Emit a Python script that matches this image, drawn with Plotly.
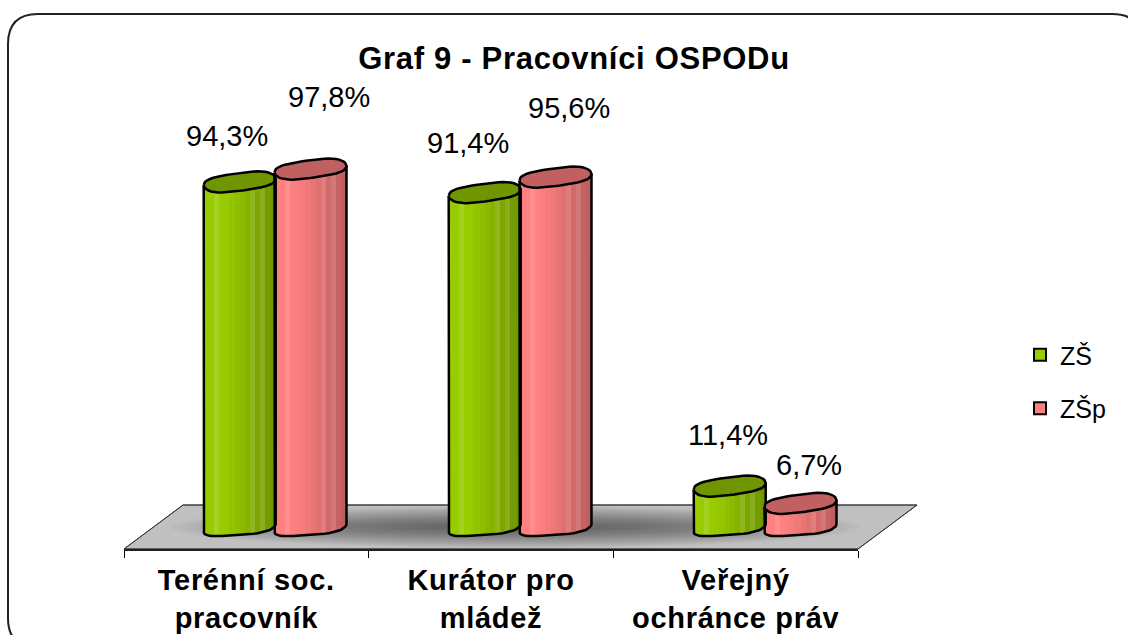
import math
import plotly.graph_objects as go

CATEGORIES = ["Terénní soc.<br>pracovník", "Kurátor pro<br>mládež", "Veřejný<br>ochránce práv"]
SERIES_NAMES = ["ZŠ", "ZŠp"]
ZS_VALUES = [94.3, 91.4, 11.4]
ZSP_VALUES = [97.8, 95.6, 6.7]
ZS_LABELS = ["94,3%", "91,4%", "11,4%"]
ZSP_LABELS = ["97,8%", "95,6%", "6,7%"]
TITLE = "Graf 9 - Pracovníci OSPODu"

W, H = 1128, 635
def px(x): return x / W
def py(y): return 1 - y / H

# plot-plane geometry
X_L, X_R = 153, 888
Y0, PX_PER_UNIT = 528, 3.67
YMIN, YMAX = -10, 120
UX = (X_R - X_L) / 3
BAR_W = 72 / UX
B_U, T_U = 9.6 / PX_PER_UNIT, 3.6 / PX_PER_UNIT
B_LOW = 7.6 / PX_PER_UNIT
GAP = -1 / UX

def lerp(a, b, f): return [a[i] + (b[i] - a[i]) * f for i in range(3)]
def col(c): return "rgb(%d,%d,%d)" % tuple(round(v) for v in c)

def shade(base, dark, f, n):
    s = lerp(base, dark, max(0, (f - 0.28) / 0.72))
    if n in (2, 9, 11):
        s = lerp(s, (255, 255, 255), 0.12)
    return col(s)

SERIES = [
    dict(name=SERIES_NAMES[0], vals=ZS_VALUES, labels=ZS_LABELS, base=(153, 204, 0), dark=(112, 150, 0),
         cap="#6f9500", center=GAP - BAR_W / 2 + 1.2 / UX, fill="#99CC00",
         dx=[-13, -17, -2], dy=[-46, -50, -51]),
    dict(name=SERIES_NAMES[1], vals=ZSP_VALUES, labels=ZSP_LABELS, base=(255, 128, 128), dark=(190, 95, 95),
         cap="#c06060", center=GAP + BAR_W / 2, fill="#FF8080",
         dx=[18, 13, 8], dy=[-72, -69, -38]),
]

def wob(a):
    # faceted, slightly lobed rim of the drawn cylinders
    return 0.22 * math.sin(3 * a + 0.6)

fig = go.Figure()
NS = 14
for s in SERIES:
    for k in range(NS):
        t0 = -1 + 2 * k / NS
        t1 = -1 + 2 * (k + 1) / NS
        tm = (t0 + t1) / 2
        a = math.acos(-tm)
        base = T_U * tm - B_LOW * math.sin(a) - wob(a)
        fig.add_trace(go.Bar(
            x=[0, 1, 2], y=[v - base for v in s["vals"]], base=base,
            offset=s["center"] + t0 * BAR_W / 2, width=(t1 - t0) * BAR_W / 2 * 1.04,
            marker=dict(color=shade(s["base"], s["dark"], k / (NS - 1), k), line=dict(width=0)),
            showlegend=False, hoverinfo="skip"))

ANG = [math.pi * i / 24 for i in range(25)]
for s in SERIES:
    ox, oy, cx, cy = [], [], [], []
    for i, v in enumerate(s["vals"]):
        xc = i + s["center"]
        # body outline: left side, lower rim, right side
        ox.append(xc - BAR_W / 2); oy.append(v - T_U)
        for a in ANG:
            t = -math.cos(a)
            ox.append(xc + t * BAR_W / 2)
            oy.append(T_U * t - B_LOW * math.sin(a) - wob(a))
        ox.append(xc + BAR_W / 2); oy.append(v + T_U)
        ox.append(None); oy.append(None)
        # cap ellipse
        for j in range(49):
            a = 2 * math.pi * j / 48
            t = -math.cos(a)
            cx.append(xc + t * BAR_W / 2)
            cy.append(v + T_U * t + B_U * math.sin(a) + wob(a))
        cx.append(None); cy.append(None)
    fig.add_trace(go.Scatter(x=ox, y=oy, mode="lines", line=dict(color="black", width=2.5),
                             showlegend=False, hoverinfo="skip"))
    fig.add_trace(go.Scatter(x=cx, y=cy, mode="lines", fill="toself", fillcolor=s["cap"],
                             line=dict(color="black", width=2.5), showlegend=False, hoverinfo="skip"))

# legend entries
for idx, s in enumerate(SERIES):
    fig.add_trace(go.Bar(x=[None], y=[None], name=s["name"], legendgroup=s["name"],
                         marker=dict(color=s["fill"], line=dict(color="black", width=2))))

# category axis
fig.add_trace(go.Scatter(x=CATEGORIES, y=[0, 0, 0], xaxis="x2", yaxis="y2", mode="markers",
                         marker=dict(opacity=0), showlegend=False, hoverinfo="skip"))

# labels
annots = []
for s in SERIES:
    for i, v in enumerate(s["vals"]):
        annots.append(dict(x=i + s["center"], y=v, xref="x", yref="y", text=s["labels"][i], showarrow=False,
                           xshift=s["dx"][i], yshift=-s["dy"][i],
                           font=dict(family="Liberation Sans", size=29, color="black")))

# floor, shadow, frame
fl = [(124, 549), (858, 549), (917, 505), (183, 505)]
def path(points, close=True):
    return "M" + " L".join("%.5f,%.5f" % (px(a), py(b)) for a, b in points) + (" Z" if close else "")

shapes = [dict(type="path", xref="paper", yref="paper", layer="below", path=path(fl),
               fillcolor="#C0C0C0", line=dict(color="#555555", width=1))]
LAYERS = 25
for n in range(LAYERS):
    f = 1 - n / LAYERS
    pts = []
    for j in range(72):
        a = 2 * math.pi * j / 72
        pts.append((515 + 345 * f ** 0.7 * math.cos(a), max(506, min(548, 527 + 21 * f * math.sin(a)))))
    shapes.append(dict(type="path", xref="paper", yref="paper", layer="below", path=path(pts),
                       fillcolor="rgba(0,0,0,0.025)", line=dict(width=0)))
shapes.append(dict(type="path", xref="paper", yref="paper", layer="below", path=path(fl),
                   fillcolor="rgba(0,0,0,0)", line=dict(color="#333333", width=1)))
# rounded frame
FX0, FY0, FX1, FY1, R = 8, 14, 1142, 648, 30
shapes.append(dict(type="path", xref="paper", yref="paper", layer="below",
    path=("M%f,%f L%f,%f Q%f,%f %f,%f L%f,%f Q%f,%f %f,%f L%f,%f Q%f,%f %f,%f L%f,%f Q%f,%f %f,%f Z" % (
        px(FX0), py(FY0 + R), px(FX0), py(FY1 - R), px(FX0), py(FY1), px(FX0 + R), py(FY1),
        px(FX1 - R), py(FY1), px(FX1), py(FY1), px(FX1), py(FY1 - R),
        px(FX1), py(FY0 + R), px(FX1), py(FY0), px(FX1 - R), py(FY0),
        px(FX0 + R), py(FY0), px(FX0), py(FY0), px(FX0), py(FY0 + R))),
    line=dict(color="#222222", width=2)))

fig.update_layout(
    width=W, height=H, margin=dict(l=0, r=0, t=0, b=0), autosize=False,
    paper_bgcolor="white", plot_bgcolor="rgba(0,0,0,0)", barmode="overlay", bargap=0,
    title=dict(text="<b>%s</b>" % TITLE, x=574 / W, xanchor="center", y=py(58), yanchor="middle",
               font=dict(family="Liberation Sans", size=31, color="black")),
    xaxis=dict(domain=[px(X_L), px(X_R)], range=[-0.5, 2.5], visible=False),
    yaxis=dict(domain=[py(Y0 - YMIN * PX_PER_UNIT), py(Y0 - YMAX * PX_PER_UNIT)], range=[YMIN, YMAX], visible=False),
    xaxis2=dict(domain=[px(124), px(858)], type="category", categoryorder="array", categoryarray=CATEGORIES,
                range=[-0.5, 2.5], anchor="y2", tickson="boundaries", ticks="outside", ticklen=7, tickwidth=1,
                tickcolor="black", showline=True, linecolor="#222222", linewidth=2, showgrid=False,
                tickfont=dict(family="Liberation Sans", size=29, color="black"), tickprefix="<b>", ticksuffix="</b>",
                ticklabelstandoff=4),
    yaxis2=dict(domain=[py(549), py(500)], range=[0, 1], visible=False, anchor="x2"),
    legend=dict(x=1020 / W, xanchor="left", y=py(332), yanchor="top", font=dict(family="Liberation Sans", size=25, color="black"),
                bgcolor="rgba(0,0,0,0)", tracegroupgap=18, itemwidth=30),
    shapes=shapes, annotations=annots,
)
POST = """
document.body.style.margin = '0';
document.querySelectorAll('.x2tick text').forEach(function (t) { t.style.letterSpacing = '0.7px'; });
document.querySelectorAll('.gtitle').forEach(function (t) { t.style.letterSpacing = '0.7px'; });
"""
fig.write_html("out.html", post_script=POST, config={"displayModeBar": False})
